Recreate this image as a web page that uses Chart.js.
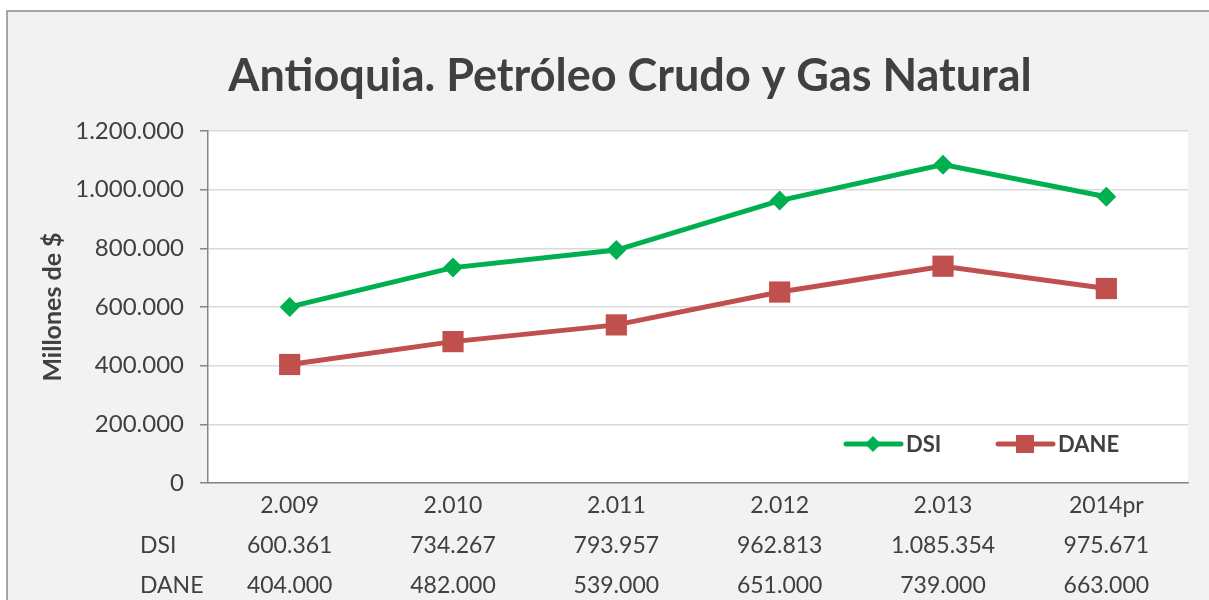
<!DOCTYPE html>
<html>
<head>
<meta charset="utf-8">
<script src="https://cdn.jsdelivr.net/npm/chart.js@4.4.1/dist/chart.umd.min.js"></script>
<style>
  html, body { margin: 0; padding: 0; background: #ffffff; }
  #wrap { position: absolute; left: 0; top: 0; width: 1209px; height: 600px; }
</style>
</head>
<body>
<div id="wrap"><canvas id="chart" width="1209" height="600"></canvas></div>
<script>
// chart data
const years = ["2.009", "2.010", "2.011", "2.012", "2.013", "2014pr"];
const dsiValues = [600361, 734267, 793957, 962813, 1085354, 975671];
const daneValues = [404000, 482000, 539000, 651000, 739000, 663000];
const seriesNames = ["DSI", "DANE"];
const chartTitle = "Antioquia. Petróleo Crudo y Gas Natural";
const yTitle = "Millones de $";

const FONT = "Lato, 'Open Sans', sans-serif";
const TEXT = "#404040";

// Spanish style thousands: 1.200.000
function fmt(n) {
  return String(n).replace(/\B(?=(\d{3})+(?!\d))/g, ".");
}

// frame, title, plot background
const framePlugin = {
  id: "frame",
  beforeDraw(chart) {
    const c = chart.ctx;
    const a = chart.chartArea;
    c.save();
    c.fillStyle = "#ffffff";
    c.fillRect(0, 0, chart.width, chart.height);
    c.fillStyle = "#f2f2f2";
    c.fillRect(7, 11, chart.width + 10, chart.height);
    c.strokeStyle = "#8a8a8a";
    c.lineWidth = 1.5;
    c.strokeRect(7, 11, chart.width + 10, chart.height + 10);
    c.fillStyle = "#ffffff";
    c.fillRect(a.left, a.top, a.right - a.left, a.bottom - a.top);
    c.fillStyle = TEXT;
    c.font = "bold 45px " + FONT;
    c.textAlign = "center";
    c.textBaseline = "middle";
    c.fillText(chartTitle, 630, 76);
    c.restore();
  }
};

// legend inside the plot and the data table under the x axis
const tablePlugin = {
  id: "table",
  afterDraw(chart) {
    const c = chart.ctx;
    const x = chart.scales.x;
    c.save();
    // legend
    const legendX = [846, 998];
    const legendY = 444;
    chart.data.datasets.forEach((ds, i) => {
      const lx = legendX[i];
      c.strokeStyle = ds.borderColor;
      c.lineWidth = 5;
      c.lineCap = "round";
      c.beginPath();
      c.moveTo(lx, legendY);
      c.lineTo(lx + 55, legendY);
      c.stroke();
      c.fillStyle = ds.borderColor;
      const mx = lx + 27;
      if (ds.pointStyle === "rectRot") {
        c.beginPath();
        c.moveTo(mx, legendY - 8);
        c.lineTo(mx + 8, legendY);
        c.lineTo(mx, legendY + 8);
        c.lineTo(mx - 8, legendY);
        c.closePath();
        c.fill();
      } else {
        c.fillRect(mx - 9, legendY - 9, 18, 18);
      }
      c.fillStyle = TEXT;
      c.font = "bold 22px " + FONT;
      c.textAlign = "left";
      c.textBaseline = "middle";
      c.fillText(ds.label, lx + 60, legendY + 1);
    });
    // data table
    c.font = "23px " + FONT;
    c.fillStyle = TEXT;
    c.textBaseline = "middle";
    const rowY = [546, 586];
    chart.data.datasets.forEach((ds, i) => {
      c.textAlign = "left";
      c.fillText(ds.label, 140, rowY[i]);
      c.textAlign = "center";
      ds.data.forEach((v, j) => {
        c.fillText(fmt(v), x.getPixelForValue(j), rowY[i]);
      });
    });
    c.restore();
  }
};

new Chart(document.getElementById("chart"), {
  type: "line",
  data: {
    labels: years,
    datasets: [
      {
        label: seriesNames[0],
        data: dsiValues,
        borderColor: "#00b050",
        backgroundColor: "#00b050",
        borderWidth: 5,
        pointStyle: "rectRot",
        pointRadius: 10,
        pointBorderWidth: 0,
        tension: 0
      },
      {
        label: seriesNames[1],
        data: daneValues,
        borderColor: "#c0504d",
        backgroundColor: "#c0504d",
        borderWidth: 5,
        pointStyle: "rect",
        pointRadius: 15,
        pointBorderWidth: 0,
        tension: 0
      }
    ]
  },
  options: {
    responsive: false,
    animation: false,
    layout: { padding: { top: 131, left: 0, right: 21, bottom: 77 } },
    plugins: {
      legend: { display: false },
      title: { display: false },
      tooltip: { enabled: false }
    },
    scales: {
      x: {
        offset: true,
        grid: { display: false, drawTicks: false },
        border: { color: "#868686", width: 1.5 },
        ticks: { color: TEXT, font: { family: FONT, size: 23 }, padding: 9 },
        afterFit(s) { s.height = 40; }
      },
      y: {
        min: 0,
        max: 1200000,
        grid: { color: "#d9d9d9", lineWidth: 1.5, tickLength: 8, tickColor: "#868686", drawTicks: true },
        border: { color: "#868686", width: 1.5 },
        ticks: {
          stepSize: 200000,
          color: TEXT,
          font: { family: FONT, size: 24 },
          padding: 16,
          callback: v => fmt(v)
        },
        title: {
          display: true,
          text: yTitle,
          color: TEXT,
          font: { family: FONT, size: 25, weight: "bold" },
          padding: { top: 38, bottom: 0 }
        },
        afterFit(s) { s.width = 208; }
      }
    }
  },
  plugins: [framePlugin, tablePlugin]
});
</script>
</body>
</html>
